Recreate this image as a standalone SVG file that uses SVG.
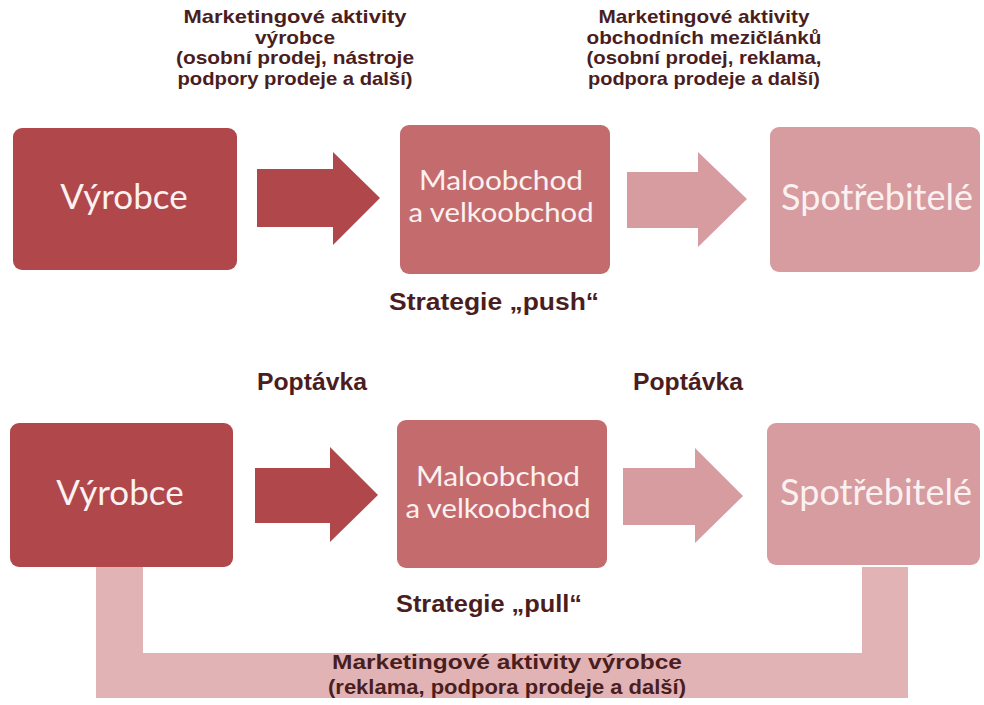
<svg xmlns="http://www.w3.org/2000/svg" width="984" height="705" viewBox="0 0 984 705">
  <defs>
    <style>
      .lbl { font-family: "Liberation Sans", Arial, sans-serif; font-weight: bold; fill: #4a1e1e; text-anchor: middle; }
      .cap { font-size: 19px; }
      .strat { font-size: 23px; }
      .node { font-family: Lato, "Open Sans", sans-serif; fill: #fbf1f1; text-anchor: middle; }
      .two { font-size: 26px; }
      .dark { fill: #b0474a; }
      .mid { fill: #c46c6d; }
      .light { fill: #d69c9f; }
      .band { fill: #e2b3b5; }
    </style>
  </defs>
  <rect width="984" height="705" fill="#ffffff"/>

  <!-- captions above the push row -->
  <g id="caption-push-1" class="lbl cap">
    <text x="295" y="23" textLength="223" lengthAdjust="spacingAndGlyphs">Marketingové aktivity</text>
    <text x="295" y="44" textLength="80" lengthAdjust="spacingAndGlyphs">výrobce</text>
    <text x="295" y="64" textLength="238" lengthAdjust="spacingAndGlyphs">(osobní prodej, nástroje</text>
    <text x="295" y="85" textLength="235" lengthAdjust="spacingAndGlyphs">podpory prodeje a další)</text>
  </g>
  <g id="caption-push-2" class="lbl cap">
    <text x="704" y="23" textLength="211" lengthAdjust="spacingAndGlyphs">Marketingové aktivity</text>
    <text x="704" y="44" textLength="235" lengthAdjust="spacingAndGlyphs">obchodních mezičlánků</text>
    <text x="704" y="64" textLength="235" lengthAdjust="spacingAndGlyphs">(osobní prodej, reklama,</text>
    <text x="704" y="85" textLength="232" lengthAdjust="spacingAndGlyphs">podpora prodeje a další)</text>
  </g>

  <!-- connectors: block arrows and the producer-to-consumer band -->
  <g id="connectors">
    <path class="band" d="M96 567 H143 V653 H862 V567 H908 V698 H96 Z"/>
    <path class="dark" d="M257 169 H333 V152 L380 198 L333 245 V227 H257 Z"/>
    <path class="light" d="M627 172 H698 V152 L747 199 L698 247 V228 H627 Z"/>
    <path class="dark" d="M255 468 H330 V447 L378 495 L330 542 V523 H255 Z"/>
    <path class="light" d="M623 468 H695 V448 L743 496 L695 543 V525 H623 Z"/>
  </g>

  <!-- push row -->
  <g id="vyrobce-push">
    <rect class="dark" x="13" y="128" width="224" height="142" rx="9"/>
    <text class="node" x="124" y="209" font-size="35">Výrobce</text>
  </g>
  <g id="obchod-push">
    <rect class="mid" x="400" y="125" width="210" height="149" rx="9"/>
    <text class="node two" x="501" y="190" textLength="164" lengthAdjust="spacingAndGlyphs">Maloobchod</text>
    <text class="node two" x="501" y="222" textLength="185" lengthAdjust="spacingAndGlyphs">a velkoobchod</text>
  </g>
  <g id="spotrebitele-push">
    <rect class="light" x="770" y="127" width="210" height="145" rx="9"/>
    <text class="node" x="877" y="210" font-size="36">Spotřebitelé</text>
  </g>
  <text id="strategie-push" class="lbl strat" x="494" y="310" textLength="210" lengthAdjust="spacingAndGlyphs">Strategie „push“</text>

  <!-- pull row -->
  <text id="poptavka-1" class="lbl strat" x="312" y="390" font-size="22" textLength="110" lengthAdjust="spacingAndGlyphs">Poptávka</text>
  <text id="poptavka-2" class="lbl strat" x="688" y="390" font-size="22" textLength="110" lengthAdjust="spacingAndGlyphs">Poptávka</text>
  <g id="vyrobce-pull">
    <rect class="dark" x="10" y="423" width="223" height="144" rx="9"/>
    <text class="node" x="120" y="505" font-size="35">Výrobce</text>
  </g>
  <g id="obchod-pull">
    <rect class="mid" x="397" y="420" width="210" height="148" rx="9"/>
    <text class="node two" x="498" y="486" textLength="164" lengthAdjust="spacingAndGlyphs">Maloobchod</text>
    <text class="node two" x="498" y="518" textLength="185" lengthAdjust="spacingAndGlyphs">a velkoobchod</text>
  </g>
  <g id="spotrebitele-pull">
    <rect class="light" x="767" y="423" width="213" height="142" rx="9"/>
    <text class="node" x="876" y="505" font-size="36">Spotřebitelé</text>
  </g>
  <text id="strategie-pull" class="lbl strat" x="489" y="612" textLength="186" lengthAdjust="spacingAndGlyphs">Strategie „pull“</text>

  <g id="caption-pull" class="lbl">
    <text x="507" y="669" font-size="21" textLength="350" lengthAdjust="spacingAndGlyphs">Marketingové aktivity výrobce</text>
    <text x="507" y="694" font-size="21" textLength="358" lengthAdjust="spacingAndGlyphs">(reklama, podpora prodeje a další)</text>
  </g>
</svg>
